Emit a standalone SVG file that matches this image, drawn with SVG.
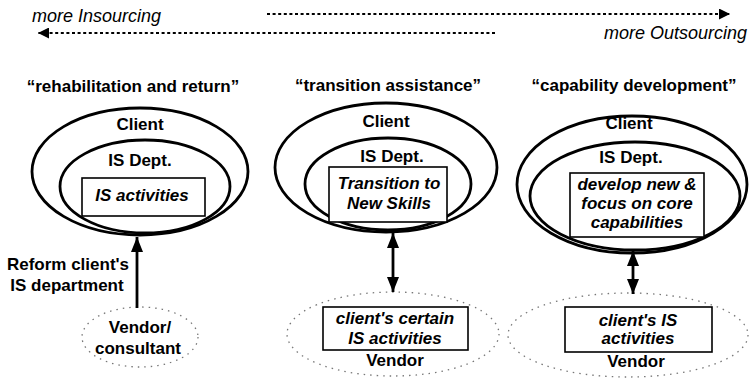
<svg xmlns="http://www.w3.org/2000/svg" width="751" height="378" viewBox="0 0 751 378">
<style>
text{font-family:"Liberation Sans",Arial,sans-serif;fill:#000;text-anchor:middle}
.t{font-size:17px;font-weight:bold}
.bi{font-size:17px;font-weight:bold;font-style:italic}
.top{font-size:18px;font-style:italic}
.ell{fill:none;stroke:#000;stroke-width:2.8}
.box{fill:#fff;stroke:#000;stroke-width:1.6}
.ven{fill:none;stroke:#777;stroke-width:1.3;stroke-dasharray:1.5 5}
.dot{stroke:#000;stroke-width:2.2;stroke-dasharray:3 2.6;fill:none}
.arr{stroke:#000;stroke-width:2.8;fill:none}
</style>
<defs>
<marker id="ah" viewBox="0 0 10 10" refX="10" refY="5" markerUnits="userSpaceOnUse" markerWidth="15" markerHeight="12" preserveAspectRatio="none" orient="auto-start-reverse"><path d="M0,0L10,5L0,10z" fill="#000"/></marker>
<marker id="ahs" viewBox="0 0 10 10" refX="10" refY="5" markerUnits="userSpaceOnUse" markerWidth="11" markerHeight="11" preserveAspectRatio="none" orient="auto-start-reverse"><path d="M0,0L10,5L0,10z" fill="#000"/></marker>
</defs>
<g id="scale">
<text class="top" x="32" y="22" style="text-anchor:start">more Insourcing</text>
<text class="top" x="747" y="39" style="text-anchor:end">more Outsourcing</text>
</g>
<g id="panel1">
<text class="t" x="133" y="92">“rehabilitation and return”</text>
<ellipse class="ell" cx="140" cy="171.5" rx="108" ry="63.5"/>
<text class="t" x="140" y="130">Client</text>
<ellipse class="ell" cx="145" cy="186.5" rx="85" ry="46.5"/>
<text class="t" x="140" y="166">IS Dept.</text>
<rect class="box" x="82" y="178" width="123" height="38"/>
<text class="bi" x="142" y="201">IS activities</text>
</g>
<g id="vendor1">
<ellipse class="ven" cx="140" cy="337" rx="58" ry="30"/>
<text class="t" x="140" y="333">Vendor/</text>
<text class="t" x="138" y="354">consultant</text>
</g>
<g id="panel2">
<text class="t" x="388" y="91">“transition assistance”</text>
<ellipse class="ell" cx="386" cy="167.5" rx="111" ry="64.5"/>
<text class="t" x="386" y="127">Client</text>
<ellipse class="ell" cx="388" cy="184" rx="83" ry="46"/>
<text class="t" x="392" y="162">IS Dept.</text>
<rect class="box" x="329" y="167" width="118" height="55"/>
<text class="bi" x="389" y="189">Transition to</text>
<text class="bi" x="389" y="209">New Skills</text>
</g>
<g id="vendor2">
<ellipse class="ven" cx="393" cy="334" rx="106" ry="42"/>
<rect class="box" x="323" y="307" width="145" height="43"/>
<text class="bi" x="395" y="324">client's certain</text>
<text class="bi" x="395" y="344">IS activities</text>
<text class="t" x="395" y="366">Vendor</text>
</g>
<g id="panel3">
<text class="t" x="634" y="91">“capability development”</text>
<ellipse class="ell" cx="632" cy="184.5" rx="115" ry="68.5"/>
<text class="t" x="629" y="129">Client</text>
<ellipse class="ell" cx="635" cy="196" rx="105" ry="54"/>
<text class="t" x="631" y="163">IS Dept.</text>
<rect class="box" x="570" y="173" width="134" height="64"/>
<text class="bi" x="637" y="190">develop new &amp;</text>
<text class="bi" x="637" y="209">focus on core</text>
<text class="bi" x="637" y="228">capabilities</text>
</g>
<g id="vendor3">
<ellipse class="ven" cx="628" cy="335" rx="120" ry="42"/>
<rect class="box" x="565" y="307" width="147" height="45"/>
<text class="bi" x="638" y="326">client's IS</text>
<text class="bi" x="638" y="344">activities</text>
<text class="t" x="636" y="367">Vendor</text>
</g>
<g id="connectors">
<path class="dot" d="M267,14H730" marker-end="url(#ahs)"/>
<path class="dot" d="M495,33H38" marker-end="url(#ahs)"/>
<path class="arr" d="M137,308V237" marker-end="url(#ah)"/>
<path class="arr" d="M393,233V292" marker-start="url(#ah)" marker-end="url(#ah)"/>
<path class="arr" d="M633,251V294" marker-start="url(#ah)" marker-end="url(#ah)"/>
<text class="t" x="68" y="270">Reform client's</text>
<text class="t" x="67" y="291">IS department</text>
</g>
</svg>
